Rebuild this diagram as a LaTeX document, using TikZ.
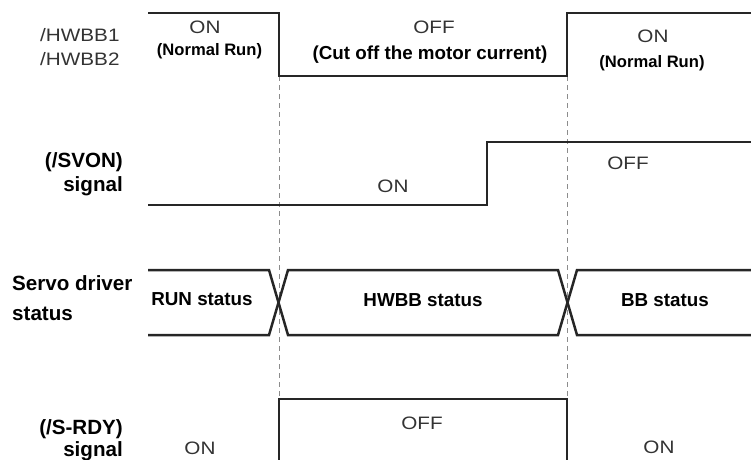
\documentclass[tikz,border=0pt]{standalone}
\usepackage{fontspec}
\setmainfont{Liberation Sans}
\newfontfamily\regfont{Liberation Sans}[FakeStretch=1.15]
\begin{document}
\begin{tikzpicture}[x=1pt,y=-1pt,
  wave/.style={line width=2.5pt, draw=black!85, line join=miter},
  guide/.style={draw=black!45, line width=0.9pt, dash pattern=on 5pt off 4pt},
  reg/.style={font=\regfont\fontsize{18}{20}\selectfont, text=black!80, inner sep=0pt, anchor=base},
  bld/.style={font=\fontsize{18.8}{22}\selectfont\bfseries, text=black, inner sep=0pt, anchor=base},
  nrun/.style={font=\fontsize{16.6}{19}\selectfont\bfseries},
  lbl/.style={font=\fontsize{20.6}{23}\selectfont\bfseries, text=black, inner sep=0pt}
]
\useasboundingbox (0,0) rectangle (751,459);
\clip (0,0) rectangle (751,459);

% guide lines
\draw[guide] (279,76) -- (279,399);
\draw[guide] (567,76) -- (567,399);

% /HWBB waveform
\draw[wave] (148,13) -- (279,13) -- (279,76) -- (567,76) -- (567,13) -- (752,13);

% /SVON waveform
\draw[wave] (148,205) -- (487,205) -- (487,142) -- (752,142);

% Servo driver status bus
\draw[wave] (148,270) -- (269,270) -- (288,335) -- (558,335) -- (577,270) -- (752,270);
\draw[wave] (148,335) -- (269,335) -- (288,270) -- (558,270) -- (577,335) -- (752,335);

% /S-RDY waveform
\draw[wave] (279,470) -- (279,399) -- (567,399) -- (567,470);

% left labels
\node[reg, anchor=base west] (hw1) at (40,41) {/HWBB1};
\node[reg, anchor=base west] (hw2) at (40,65) {/HWBB2};
\node[lbl, anchor=base east] (sv1) at (123,167) {(/SVON)};
\node[lbl, anchor=base east] (sv2) at (123,191) {signal};
\node[lbl, anchor=base west] (sd1) at (12,290) {Servo driver};
\node[lbl, anchor=base west] (sd2) at (12,320) {status};
\node[lbl, anchor=base east] (sr1) at (123,434) {(/S-RDY)};
\node[lbl, anchor=base east] (sr2) at (123,456) {signal};

% HWBB texts
\node[reg] (hwon1) at (205,33) {ON};
\node[bld, nrun] (hwnr1) at (209.5,55) {(Normal Run)};
\node[reg] (hwoff) at (434,33) {OFF};
\node[bld] (hwcut) at (430,59) {(Cut off the motor current)};
\node[reg] (hwon2) at (653,42) {ON};
\node[bld, nrun] (hwnr2) at (652,67) {(Normal Run)};

% SVON texts
\node[reg] (svon) at (393,192) {ON};
\node[reg] (svoff) at (628,169) {OFF};

% status texts
\node[bld] (st1) at (202,305) {RUN status};
\node[bld] (st2) at (423,306) {HWBB status};
\node[bld] (st3) at (665,306) {BB status};

% S-RDY texts
\node[reg] (sron1) at (200,454) {ON};
\node[reg] (sroff) at (422,429) {OFF};
\node[reg] (sron2) at (659,453) {ON};
\end{tikzpicture}
\end{document}
